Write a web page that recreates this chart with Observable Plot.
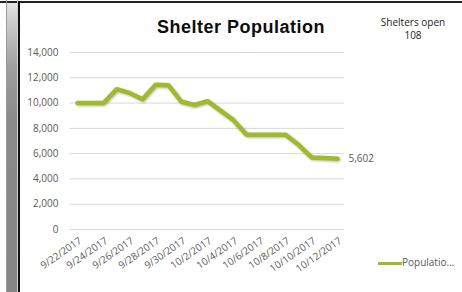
<!DOCTYPE html>
<html>
<head>
<meta charset="utf-8">
<script src="https://cdn.jsdelivr.net/npm/d3@7"></script>
<script src="https://cdn.jsdelivr.net/npm/@observablehq/plot@0.6"></script>
<style>
  html, body { margin: 0; padding: 0; background: #fff; }
  #wrap { position: relative; width: 462px; height: 292px; overflow: hidden; background: #fff; font-family: "Open Sans", sans-serif; }
  #chart { position: absolute; left: 0; top: 0; }
  #chart svg [aria-label="line"] path { filter: drop-shadow(1px 1.5px 1px rgba(0,0,0,0.28)); }
  .abs { position: absolute; }
</style>
</head>
<body>
<div id="wrap">
  <div class="abs" style="left:0;top:1px;width:462px;height:2px;background:#222;"></div>
  <div class="abs" style="left:6px;top:0;width:1px;height:292px;background:#9a9a9a;"></div>
  <div class="abs" style="left:7px;top:3px;width:10px;height:289px;background:linear-gradient(to bottom,#e4e4e4 0%,#c8c8c8 8%,#a0a0a0 22%,#8a8a8a 40%,#858585 100%);"></div>
  <div class="abs" style="left:17px;top:0;width:1px;height:292px;background:#d0d0d0;"></div>
  <div class="abs" style="left:18px;top:1px;width:2px;height:291px;background:#111;"></div>
  <div id="chart"></div>
  <div class="abs" style="left:131px;width:220px;top:18px;text-align:center;font-family:'Liberation Sans',Arial,sans-serif;font-weight:bold;font-size:18px;line-height:18px;letter-spacing:0.5px;color:#0d0d0d;">Shelter Population</div>
  <div class="abs" style="left:363px;width:100px;top:16px;text-align:center;font-size:10px;line-height:13.3px;color:#1a1a1a;">Shelters open<br>108</div>
  <div class="abs" style="left:378px;top:261.5px;width:24px;height:3.5px;background:#9fba2b;"></div>
  <div class="abs" style="left:402px;top:256px;font-size:10px;line-height:13px;color:#595959;white-space:nowrap;">Populatio…</div>
</div>
<script>
const dates = ["9/22/2017","9/23/2017","9/24/2017","9/25/2017","9/26/2017","9/27/2017","9/28/2017","9/29/2017","9/30/2017","10/1/2017","10/2/2017","10/3/2017","10/4/2017","10/5/2017","10/6/2017","10/7/2017","10/8/2017","10/9/2017","10/10/2017","10/11/2017","10/12/2017"];
const population = [10000,10000,10000,11100,10800,10300,11450,11400,10100,9850,10150,9400,8650,7500,7500,7500,7500,6700,5700,5650,5602];
const xTicks = ["9/22/2017","9/24/2017","9/26/2017","9/28/2017","9/30/2017","10/2/2017","10/4/2017","10/6/2017","10/8/2017","10/10/2017","10/12/2017"];
const yTicks = [0,2000,4000,6000,8000,10000,12000,14000];

const rows = dates.map((d, i) => ({date: d, value: population[i]}));
const last = [rows[rows.length - 1]];
const fmt = d3.format(",");
const lineColor = "#9fba2b";

const chart = Plot.plot({
  width: 462,
  height: 292,
  marginLeft: 69.5,
  marginRight: 118,
  marginTop: 52,
  marginBottom: 63,
  style: {fontFamily: "Open Sans", fontSize: "10px", color: "#595959", background: "transparent", overflow: "visible"},
  x: {type: "point", domain: dates, padding: 0.5, label: null},
  y: {domain: [0, 14000], label: null},
  marks: [
    Plot.gridY(yTicks, {stroke: "#d9d9d9", strokeOpacity: 1, strokeWidth: 1}),
    Plot.axisY(yTicks, {tickSize: 0, tickPadding: 11.5, tickFormat: fmt, fill: "#595959", label: null}),
    Plot.axisX(xTicks, {tickSize: 0, tickRotate: -35, tickPadding: 10, dx: 3, fill: "#595959", label: null}),
    Plot.line(rows, {x: "date", y: "value", stroke: lineColor, strokeWidth: 4.5, strokeLinejoin: "round", strokeLinecap: "round"}),
    Plot.text(last, {x: "date", y: "value", text: d => fmt(d.value), textAnchor: "start", dx: 11, fill: "#595959"})
  ]
});
document.getElementById("chart").appendChild(chart);
</script>
</body>
</html>
